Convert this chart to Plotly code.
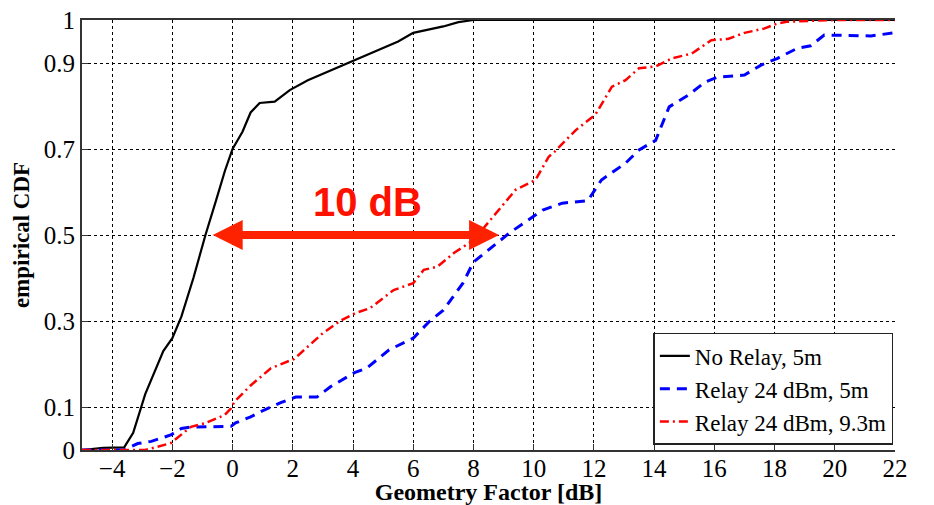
import plotly.graph_objects as go

# empirical CDF curves
no_relay_x = [-5, -4.3, -3.6, -3.3, -2.9, -2.6, -2.3, -2.0, -1.7, -1.3, -0.9, -0.55, -0.25, 0.0,
              0.33, 0.6, 0.9, 1.4, 1.9, 2.5, 3.0, 3.5, 4.0, 4.5, 5.0, 5.5, 6.0, 6.5, 7.0, 7.5, 8.0, 22]
no_relay_y = [0, 0.005, 0.006, 0.04, 0.13, 0.18, 0.23, 0.26, 0.31, 0.40, 0.50, 0.58, 0.65, 0.70,
              0.74, 0.785, 0.807, 0.81, 0.837, 0.86, 0.875, 0.89, 0.905, 0.92, 0.935, 0.95, 0.97,
              0.977, 0.985, 0.995, 1.0, 1.0]

relay_5m_x = [-5, -3.6, -3.15, -2.7, -2.05, -1.7, -1.4, -0.05, 0.1, 0.6, 1.05, 1.6, 2.1, 2.8,
              3.25, 4.05, 4.45, 5.2, 6.0, 6.55, 7.0, 7.65, 8.0, 8.5, 9.2, 10.3, 10.95, 11.8, 12.25,
              12.7, 13.05, 13.5, 14.05, 14.5, 15.15, 15.7, 16.1, 17.0, 17.55, 18.1, 18.75, 19.2,
              19.65, 21.2, 21.95]
relay_5m_y = [0, 0, 0.015, 0.02, 0.035, 0.05, 0.053, 0.055, 0.063, 0.077, 0.093, 0.11, 0.123, 0.123,
              0.147, 0.18, 0.19, 0.233, 0.26, 0.30, 0.325, 0.388, 0.437, 0.465, 0.505, 0.558, 0.574,
              0.58, 0.628, 0.65, 0.667, 0.698, 0.72, 0.798, 0.826, 0.856, 0.867, 0.872, 0.895, 0.911,
              0.934, 0.94, 0.965, 0.963, 0.97]

relay_93m_x = [-5, -2.9, -2.05, -1.7, -1.38, -0.93, -0.27, -0.05, 0.06, 0.6, 1.27, 2.05, 2.97,
               3.57, 4.07, 4.57, 5.35, 6.0, 6.35, 6.8, 7.35, 8.0, 8.65, 9.4, 10.06, 10.5, 10.7,
               11.4, 12.05, 12.6, 13.05, 13.5, 14.05, 14.6, 15.25, 15.9, 16.45, 17.0, 17.65,
               18.1, 18.4, 19.75, 20.0, 22]
relay_93m_y = [0, 0, 0.016, 0.035, 0.054, 0.062, 0.081, 0.097, 0.112, 0.15, 0.19, 0.212, 0.27,
               0.30, 0.318, 0.33, 0.372, 0.388, 0.419, 0.426, 0.458, 0.488, 0.542, 0.605, 0.628,
               0.682, 0.694, 0.744, 0.78, 0.845, 0.86, 0.888, 0.892, 0.911, 0.922, 0.953, 0.956,
               0.97, 0.98, 0.992, 0.996, 0.998, 1.0, 1.0]

x_ticks = [-4, -2, 0, 2, 4, 6, 8, 10, 12, 14, 16, 18, 20, 22]
y_ticks = [0, 0.1, 0.3, 0.5, 0.7, 0.9, 1]

# "10 dB" gap marker
gap_left, gap_right, gap_level = -0.66, 8.85, 0.5
gap_label = "10 dB"

serif = "Liberation Serif, Times New Roman, serif"

fig = go.Figure()
fig.add_trace(go.Scatter(x=no_relay_x, y=no_relay_y, mode="lines", name="No Relay, 5m",
                         line=dict(color="black", width=2.2)))
fig.add_trace(go.Scatter(x=relay_5m_x, y=relay_5m_y, mode="lines", name="Relay 24 dBm, 5m",
                         line=dict(color="#0000ff", width=3, dash="10px,7px")))
fig.add_trace(go.Scatter(x=relay_93m_x, y=relay_93m_y, mode="lines", name="Relay 24 dBm, 9.3m",
                         line=dict(color="#ff0000", width=2.5, dash="9px,4px,2px,4px")))

# two arrows meeting past the middle so the bar has no gap
mid = (gap_left + gap_right) / 2
for end, tail in ((gap_left, mid + 1.5), (gap_right, mid - 1.5)):
    fig.add_annotation(x=end, y=gap_level, ax=tail, ay=gap_level, axref="x", ayref="y",
                       xref="x", yref="y", text="", showarrow=True,
                       arrowhead=2, arrowsize=0.75, arrowwidth=8, arrowcolor="#ff2200")
fig.add_annotation(x=4.48, y=0.577, xref="x", yref="y", text="<b>%s</b>" % gap_label,
                   showarrow=False, font=dict(family="Arial, Liberation Sans", size=40, color="#ff1100"))

axis_common = dict(showgrid=True, gridcolor="black", griddash="dot", gridwidth=1,
                   showline=True, linecolor="#333333", linewidth=2, ticks="inside", ticklen=6,
                   tickcolor="#333333", zeroline=False, automargin=False,
                   ticklabeloverflow="allow",
                   tickfont=dict(family=serif, size=25, color="black"))

fig.update_xaxes(range=[-5, 22], tickvals=x_ticks, ticktext=[str(t).replace("-", "\u2212") for t in x_ticks],
                 mirror=True, ticklabelstandoff=-5,
                 title=dict(text="<b>Geometry Factor [dB]</b>", font=dict(family=serif, size=24, color="black"),
                            standoff=0),
                 **axis_common)
fig.update_yaxes(range=[0, 1], tickvals=y_ticks, ticktext=["0", "0.1", "0.3", "0.5", "0.7", "0.9", "1"],
                 title=dict(text="<b>empirical CDF</b>", font=dict(family=serif, size=23, color="black"),
                            standoff=8),
                 **axis_common)

# the page body adds 8px around the figure, so margins are shifted by that
fig.update_layout(
    width=926, height=497,
    margin=dict(l=74, r=39, t=12, b=55),
    paper_bgcolor="white", plot_bgcolor="white",
    showlegend=True,
    legend=dict(x=0.998, y=0.012, xanchor="right", yanchor="bottom",
                bgcolor="white", bordercolor="#222222", borderwidth=1.5,
                font=dict(family=serif, size=23, color="black"),
                tracegroupgap=0, itemwidth=30),
)

fig.write_html("out.html")
